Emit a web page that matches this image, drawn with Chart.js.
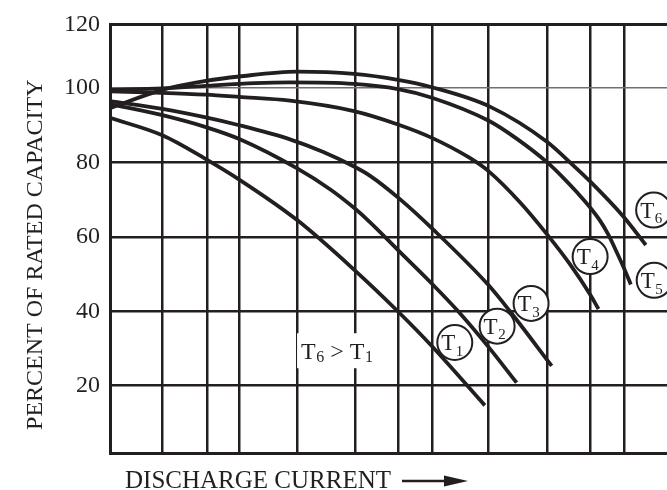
<!DOCTYPE html>
<html><head><meta charset="utf-8">
<script src="https://cdn.jsdelivr.net/npm/chart.js@4.4.0/dist/chart.umd.min.js"></script>
<style>html,body{margin:0;padding:0;background:#fff;overflow:hidden}#wrap{width:667px;height:490px}</style>
</head><body><div id="wrap"><canvas id="c" width="667" height="490"></canvas></div>
<script>
// ---- data (x: discharge current, arbitrary linear units; y: percent of rated capacity)
const seriesNames = ['T1','T2','T3','T4','T5','T6'];
const T1 = [[0,92.0],[9.4,87.3],[17.2,80.9],[23.2,75.4],[33.6,64.5],[43.8,51.2],[51.8,39.8],[57.8,30.6],[67.3,14.7]];
const T2 = [[0,95.7],[9.4,92.7],[17.2,89.5],[23.2,86.3],[33.6,78.4],[39.5,72.8],[43.8,67.8],[46.7,63.9],[51.8,56.3],[57.8,47.4],[62.5,40.0],[67.9,30.5],[73.0,20.8]];
const T3 = [[0,96.5],[9.4,94.4],[17.2,92.1],[23.2,90.0],[32.3,86.2],[38.3,82.8],[43.8,78.9],[46.7,76.4],[52.0,70.2],[58.0,62.0],[67.9,47.1],[71.8,40.0],[79.3,25.3]];
const T4 = [[0,99.1],[9.4,98.7],[17.2,98.2],[23.2,97.6],[32.3,96.6],[43.8,93.8],[51.7,90.2],[57.8,86.6],[64.6,81.2],[68.0,77.6],[73.6,69.3],[78.5,60.6],[82.6,52.6],[86.2,44.5],[87.7,40.6]];
const T5 = [[0,99.5],[9.4,99.9],[17.2,100.6],[26.0,101.3],[32.3,101.5],[43.8,101.1],[51.7,99.7],[57.8,97.4],[68.0,91.2],[73.0,86.4],[78.5,80.0],[81.3,76.0],[84.0,71.7],[86.2,67.9],[88.0,64.3],[89.4,60.8],[91.0,55.8],[92.3,51.5],[93.5,47.2]];
const T6 = [[0,94.6],[9.4,99.5],[17.2,101.9],[23.2,103.1],[33.6,104.4],[43.8,103.8],[51.7,102.2],[57.8,100.2],[68.2,95.0],[78.5,85.5],[82.6,80.0],[86.2,74.9],[92.2,65.4],[96.2,57.8]];
const seriesData = [T1,T2,T3,T4,T5,T6];
const yTickValues = [20,40,60,80,100];
const yTickLabels = ['20','40','60','80','100','120'];
const xGridValues = [9.3,17.4,23.2,33.6,44.0,51.7,57.8,67.9,78.5,86.2,92.3];
const yTitle = 'PERCENT OF RATED CAPACITY';
const xTitle = 'DISCHARGE CURRENT';
const noteText = ['T','6',' > ','T','1'];

// ---- layout / style
const X_MIN = 0, X_MAX = 100, Y_MIN = 1.9, Y_MAX = 117.1;
const DARK = '#231f20';
const SERIF = '"Liberation Serif","Times New Roman",serif';
const circleSpots = {T1:[61.9,31.6],T2:[69.5,36.0],T3:[75.6,42.1],T4:[86.2,54.7],T5:[97.7,48.3],T6:[97.6,67.2]};
const noteSpot = [34.3,27.1];

function drawSub(ctx, x, y, main, sub, mainSize, subSize, drop) {
  ctx.font = mainSize + 'px ' + SERIF;
  ctx.fillText(main, x, y);
  const w = ctx.measureText(main).width;
  ctx.font = subSize + 'px ' + SERIF;
  ctx.fillText(sub, x + w + 0.5, y + drop);
  return w + 0.5 + ctx.measureText(sub).width;
}

const decor = {
  id: 'decor',
  afterDatasetsDraw(chart) {
    const ctx = chart.ctx, xs = chart.scales.x, ys = chart.scales.y;
    ctx.save();
    ctx.fillStyle = DARK; ctx.strokeStyle = DARK;
    ctx.textBaseline = 'alphabetic'; ctx.textAlign = 'left';
    const nx = xs.getPixelForValue(noteSpot[0]), ny = ys.getPixelForValue(noteSpot[1]);
    ctx.fillStyle = '#fff';
    ctx.fillRect(nx - 4, ny - 26, 80, 35);
    ctx.fillStyle = DARK;
    let cx = nx;
    cx += drawSub(ctx, cx, ny, noteText[0], noteText[1], 24, 16, 3);
    ctx.font = '24px ' + SERIF;
    ctx.fillText(noteText[2], cx, ny);
    cx += ctx.measureText(noteText[2]).width;
    drawSub(ctx, cx, ny, noteText[3], noteText[4], 24, 16, 3);
    seriesNames.forEach(n => {
      const p = circleSpots[n];
      const x = xs.getPixelForValue(p[0]), y = ys.getPixelForValue(p[1]);
      ctx.beginPath(); ctx.arc(x, y, 17.5, 0, Math.PI * 2);
      ctx.fillStyle = '#fff'; ctx.fill();
      ctx.lineWidth = 2; ctx.strokeStyle = DARK; ctx.stroke();
      ctx.fillStyle = DARK;
      drawSub(ctx, x - 13.5, y + 7.5, n[0], n.slice(1), 23, 15, 5.8);
    });
    ctx.restore();
  },
  afterDraw(chart) {
    const ctx = chart.ctx, area = chart.chartArea;
    ctx.save();
    ctx.fillStyle = DARK; ctx.strokeStyle = DARK;
    ctx.translate(35.5, (area.top + area.bottom) / 2 + 16);
    ctx.rotate(-Math.PI / 2);
    ctx.font = '24px ' + SERIF; ctx.textAlign = 'center'; ctx.textBaseline = 'middle';
    ctx.fillText(yTitle, 0, 0);
    ctx.setTransform(1, 0, 0, 1, 0, 0);
    ctx.font = '25px ' + SERIF; ctx.textAlign = 'left'; ctx.textBaseline = 'alphabetic';
    const tx = area.left + 15, ty = area.bottom + 35;
    ctx.fillText(xTitle, tx, ty);
    const tw = ctx.measureText(xTitle).width;
    const ay = ty - 7, ax0 = tx + tw + 11, ax1 = ax0 + 66;
    ctx.lineWidth = 2.7;
    ctx.beginPath(); ctx.moveTo(ax0, ay); ctx.lineTo(ax1 - 20, ay); ctx.stroke();
    ctx.beginPath(); ctx.moveTo(ax1 - 24, ay - 5.5); ctx.lineTo(ax1, ay); ctx.lineTo(ax1 - 24, ay + 5.5); ctx.closePath(); ctx.fill();
    ctx.restore();
  }
};

new Chart(document.getElementById('c'), {
  type: 'line',
  data: {
    datasets: seriesData.map((d, i) => ({
      label: seriesNames[i], data: d,
      borderColor: DARK, borderWidth: 3.8, pointRadius: 0,
      cubicInterpolationMode: 'monotone', fill: false
    }))
  },
  options: {
    responsive: false, animation: false, devicePixelRatio: 1,
    layout: { padding: { top: 21, right: 0, left: 0, bottom: 0 } },
    plugins: { legend: { display: false }, tooltip: { enabled: false } },
    scales: {
      x: {
        type: 'linear', min: X_MIN, max: X_MAX,
        afterBuildTicks: s => { s.ticks = xGridValues.map(v => ({ value: v })); },
        afterFit: s => { s.height = 37; },
        ticks: { display: false },
        grid: { color: DARK, lineWidth: 2.5, drawTicks: false },
        border: { display: true, color: DARK, width: 3 }
      },
      y: {
        type: 'linear', min: Y_MIN, max: Y_MAX,
        afterBuildTicks: s => { s.ticks = yTickValues.concat([Y_MAX]).map(v => ({ value: v })); },
        afterFit: s => { s.width = 110; },
        ticks: {
          padding: 10, color: DARK,
          font: { family: SERIF, size: 24 },
          callback: (v, i) => yTickLabels[i]
        },
        grid: {
          drawTicks: false,
          color: c => (c.tick && c.tick.value === 100) ? '#707070' : DARK,
          lineWidth: c => (c.tick && c.tick.value === 100) ? 1.5 : (c.tick && c.tick.value === Y_MAX ? 3 : 2.5)
        },
        border: { display: true, color: DARK, width: 3 }
      }
    }
  },
  plugins: [decor]
});
</script>
</body></html>
